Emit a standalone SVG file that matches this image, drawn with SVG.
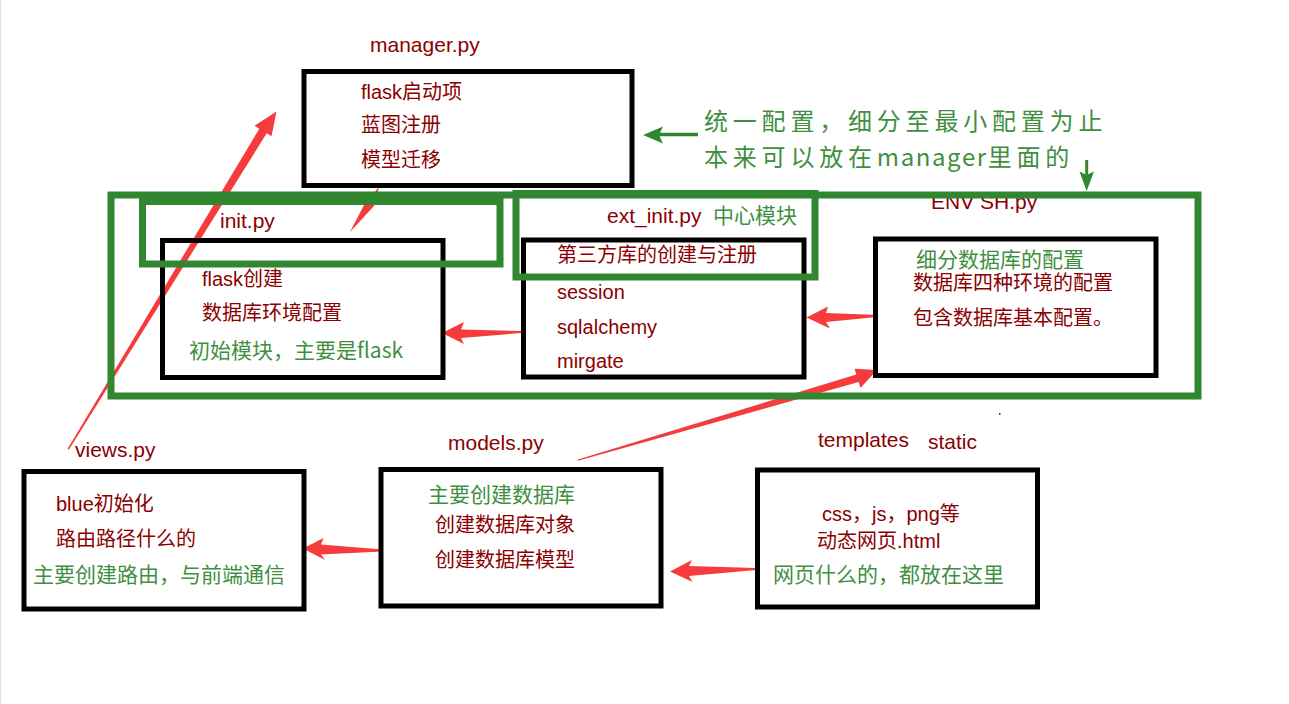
<svg xmlns="http://www.w3.org/2000/svg" width="1289" height="704" viewBox="0 0 1289 704">
<style>
.r{font-family:"Liberation Sans","Noto Sans CJK SC",sans-serif;font-size:20px;fill:#8b0000}
.h{font-size:21px}
.g{font-family:"Noto Sans CJK SC",sans-serif;font-size:21px;fill:#3f8f3f}
.big{font-size:24px;letter-spacing:4.8px}
.bk{fill:none;stroke:#000;stroke-width:5}
.gr{fill:none;stroke:#318630;stroke-width:7}
.ra{fill:#f53b3b}
.ga{fill:#318630}
</style>
<rect width="1289" height="704" fill="#fff"/>
<line x1="0.5" y1="0" x2="0.5" y2="704" stroke="#d6e4f5" stroke-width="1"/>
<g id="connectors">
<polygon class="ra" points="67.5,449 259.3,128.7 254.5,125.7 276.5,111.5 271.5,136.3 266.7,133.3 69,449.5"/>
<polygon class="ra" points="350,232 364,205 379,187 374,206"/>
<polygon class="ra" points="442,333 464,322 461,329.5 521,331 521,333 461,338 464,344"/>
<polygon class="ra" points="806.5,317.5 828,306.5 826,313 877,315 877,317 826,322 830,328.5"/>
<polygon class="ra" points="578,459.5 856.3,374.5 854.6,368.7 877,370 860.4,387.9 858.7,382.1 578,460.8"/>
<polygon class="ra" points="303,548.5 323.5,538 321,544.5 382,549.5 382,551.5 321,554.5 325,560"/>
<polygon class="ra" points="670,571.5 692,560 689,566 756,568 756,570 689,576 692.5,582"/>
<line x1="698" y1="134.5" x2="658" y2="134.5" stroke="#318630" stroke-width="3.5"/>
<polygon class="ga" points="643,135 663,126.5 659,135 663,143.5"/>
<line x1="1086.7" y1="160" x2="1086.7" y2="176" stroke="#318630" stroke-width="3"/>
<polygon class="ga" points="1079.5,171.5 1086.7,175 1094,171.5 1086.7,191"/>
</g>
<g id="note">
<text class="g big" x="704" y="130">统一配置，细分至最小配置为止</text>
<text class="g big" x="704" y="166">本来可以放在<tspan letter-spacing="1.6">manager</tspan>里面的</text>
</g>
<g id="manager">
<text class="r h" x="370" y="52">manager.py</text>
<rect class="bk" x="304" y="71.5" width="328" height="114"/>
<text class="r" x="361" y="98.5">flask启动项</text>
<text class="r" x="361" y="132">蓝图注册</text>
<text class="r" x="361" y="167">模型迁移</text>
</g>
<g id="env">
<text class="r h" x="931" y="209">ENV<tspan x="980">SH.py</tspan></text>
<rect class="bk" x="875.5" y="239" width="280.5" height="136.5"/>
<text class="g" x="916" y="267">细分数据库的配置</text>
<text class="r" x="913" y="290">数据库四种环境的配置</text>
<text class="r" x="913" y="325">包含数据库基本配置。</text>
</g>
<g id="config-frame">
<rect class="gr" x="111" y="195" width="1087" height="201"/>
<rect x="999" y="413" width="1.5" height="2" fill="#444"/>
</g>
<g id="init">
<rect class="bk" x="162.5" y="240.5" width="280.5" height="137"/>
<rect class="gr" x="142.5" y="201.5" width="357.5" height="62.5"/>
<text class="r h" x="220" y="228">init.py</text>
<text class="r" x="202" y="286">flask创建</text>
<text class="r" x="202" y="320">数据库环境配置</text>
<text class="g" x="189" y="358">初始模块，主要是flask</text>
</g>
<g id="ext">
<rect class="bk" x="523.5" y="240" width="280.5" height="137"/>
<rect class="gr" x="516" y="193.5" width="299" height="83.5"/>
<text class="r h" x="607" y="223">ext_init.py</text>
<text class="g" x="713" y="223">中心模块</text>
<text class="r" x="557" y="262">第三方库的创建与注册</text>
<text class="r" x="557" y="299">session</text>
<text class="r" x="557" y="334">sqlalchemy</text>
<text class="r" x="557" y="368">mirgate</text>
</g>
<g id="views">
<text class="r h" x="75" y="457">views.py</text>
<rect class="bk" x="24" y="471.5" width="280" height="137.5"/>
<text class="r" x="56" y="511">blue初始化</text>
<text class="r" x="56" y="546">路由路径什么的</text>
<text class="g" x="33" y="582">主要创建路由，与前端通信</text>
</g>
<g id="models">
<text class="r h" x="448" y="450">models.py</text>
<rect class="bk" x="381" y="469.5" width="280" height="136.5"/>
<text class="g" x="428" y="502">主要创建数据库</text>
<text class="r" x="435" y="532">创建数据库对象</text>
<text class="r" x="435" y="567">创建数据库模型</text>
</g>
<g id="templates">
<text class="r h" x="818" y="447">templates</text>
<text class="r h" x="928" y="449">static</text>
<rect class="bk" x="757.5" y="470" width="280" height="137"/>
<text class="r" x="822" y="521">css，js，png等</text>
<text class="r" x="817" y="548">动态网页.html</text>
<text class="g" x="773" y="582">网页什么的，都放在这里</text>
</g>
</svg>
